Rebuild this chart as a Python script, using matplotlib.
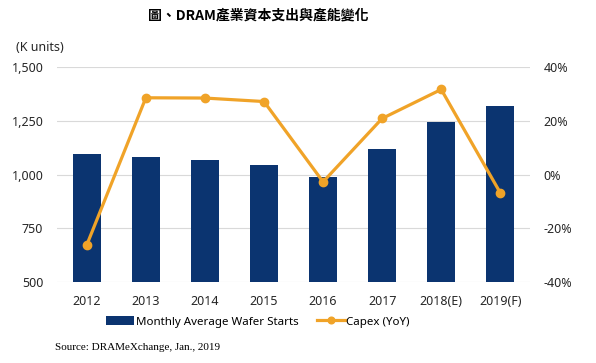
import numpy as np
import matplotlib.pyplot as plt

plt.rcParams['font.family'] = ['Noto Sans', 'Noto Sans CJK TC', 'DejaVu Sans']

years = ['2012', '2013', '2014', '2015', '2016', '2017', '2018(E)', '2019(F)']
wafer_starts = [1095, 1083, 1070, 1044, 990, 1119, 1246, 1319]   # K units
capex_yoy = [-26.2, 28.6, 28.5, 27.2, -2.7, 20.9, 31.7, -6.8]     # %

bar_color = '#0b3470'
line_color = '#f0a328'

fig = plt.figure(figsize=(5.96, 3.63), dpi=100)
ax = fig.add_axes([0.096, 0.223, 0.793, 0.592])
ax2 = ax.twinx()

x = np.arange(len(years))
bars = ax.bar(x, wafer_starts, width=0.47, color=bar_color, zorder=2,
              label='Monthly Average Wafer Starts')
ax.set_ylim(500, 1500)
ax.set_yticks([500, 750, 1000, 1250, 1500])
ax.set_yticklabels(['{:,}'.format(v) for v in [500, 750, 1000, 1250, 1500]])
ax.set_xlim(-0.5, len(years) - 0.5)
ax.set_xticks(x)
ax.set_xticklabels(years)
ax.grid(axis='y', color='#d9d9d9', linewidth=0.8, zorder=0)
ax.set_axisbelow(True)

line, = ax2.plot(x, capex_yoy, color=line_color, linewidth=2.3, marker='o',
                 markersize=6, label='Capex (YoY)', zorder=3)
ax2.set_ylim(-40, 40)
ax2.set_yticks([-40, -20, 0, 20, 40])
ax2.set_yticklabels(['{}%'.format(v) for v in [-40, -20, 0, 20, 40]])

for a in (ax, ax2):
    for s in a.spines.values():
        s.set_visible(False)
    a.tick_params(length=0, labelsize=9, colors='#262626')
ax.tick_params(axis='y', pad=10)
ax2.tick_params(axis='y', pad=10)
ax.tick_params(axis='x', pad=9)

fig.legend([bars, line], ['Monthly Average Wafer Starts', 'Capex (YoY)'],
           loc='center', bbox_to_anchor=(0.433, 0.113), ncol=2, frameon=False,
           fontsize=8.3, handlelength=2.4, handletextpad=0.15, columnspacing=1.6,
           markerscale=0.8)

fig.text(0.433, 0.957, '圖、DRAM產業資本支出與產能變化', ha='center', va='center',
         fontsize=10, fontweight='bold', family=['Noto Sans CJK TC', 'DejaVu Sans'])
fig.text(0.027, 0.868, '(K units)', ha='left', va='center', fontsize=9, color='#262626')
fig.text(0.092, 0.043, 'Source: DRAMeXchange, Jan., 2019', ha='left', va='center',
         fontsize=8, family='Liberation Serif')

fig.savefig('out.png', dpi=100)
